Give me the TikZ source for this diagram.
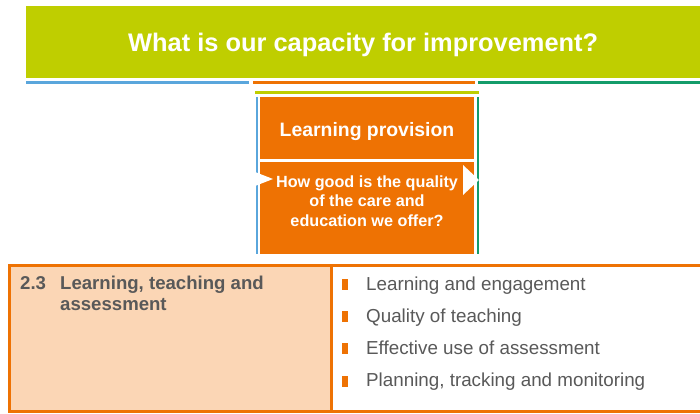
\documentclass[tikz,border=0pt]{standalone}
\usepackage{fontspec}
\setmainfont{Liberation Sans}
\usetikzlibrary{positioning,calc}
\definecolor{lime}{HTML}{BFCE00}
\definecolor{hgiorange}{HTML}{EE7203}
\definecolor{peach}{HTML}{FBD6B5}
\definecolor{skyline}{HTML}{5AA6DC}
\definecolor{greenline}{HTML}{149C6A}
\definecolor{greytext}{HTML}{595959}

\begin{document}
\begin{tikzpicture}[x=1pt,y=-1pt]
\tikzstyle{band}=[fill=hgiorange,draw=none,minimum width=214pt,inner sep=0pt,outer sep=0pt,anchor=north west]
\tikzstyle{cell}=[draw=hgiorange,line width=3pt,minimum height=145.5pt,inner sep=0pt,outer sep=0pt,anchor=north west]
\tikzstyle{bullet}=[fill=hgiorange,draw=none,minimum width=5.5pt,minimum height=11pt,inner sep=0pt,anchor=south west]
\tikzstyle{item}=[text=greytext,font=\fontsize{18.8}{22}\selectfont,inner sep=0pt,anchor=base west]
\tikzstyle{flag}=[fill=white,draw=none]

\useasboundingbox (0,0) rectangle (700,414);

% title bar
\node (title) [fill=lime,minimum width=674pt,minimum height=72pt,inner sep=0pt,anchor=north west,text=white,text height=23pt,text depth=5.3pt,font=\bfseries\fontsize{25.4}{28}\selectfont] at (26,6) {What is our capacity for improvement?};
\draw [skyline,line width=2.5pt] (26,82.5) -- (249,82.5);
\draw [hgiorange,line width=2.5pt] (253,82.5) -- (475,82.5);
\draw [greenline,line width=2.5pt] (478,82.5) -- (700,82.5);

% learning provision column
\draw [lime,line width=2.5pt] (255,92.5) -- (479,92.5);
\draw [skyline,line width=2pt] (256.5,97) -- (256.5,254);
\draw [greenline,line width=2pt] (477.5,97) -- (477.5,254);
\node (prov) [band,minimum height=62pt,text=white,text height=20pt,text depth=4pt,font=\bfseries\fontsize{19.4}{22}\selectfont] at (260,97) {Learning provision};
\node (quest) [band,minimum height=92pt] at (260,162) {};
\node (questtext) [text=white,align=center,inner sep=0pt,font=\bfseries\fontsize{16.2}{19.5}\selectfont] at ($(quest.north)+(0,39)$) {How good is the quality\\of the care and\\education we offer?};
\fill [flag] (quest.north west) ++(-5,10) -- ++(18,7) -- ++(-18,7) -- cycle;
\fill [flag] (quest.north east) ++(-11,3) -- ++(16,15) -- ++(-16,15) -- cycle;

% quality indicator row
\node (themes) [cell,fill=white,minimum width=375pt] at (331,265.5) {};
\node (area) [cell,fill=peach,minimum width=321.5pt] at (9.5,265.5) {};
\node (num) [text=greytext,font=\bfseries\fontsize{18.6}{21}\selectfont,inner sep=0pt,anchor=base west] at (20,289) {2.3};
\node (areatitle) [text=greytext,font=\bfseries\fontsize{18.6}{21}\selectfont,inner sep=0pt,align=left,anchor=north west] at (60,275.5) {Learning, teaching and\\assessment};

\node (lte1) [item] at (366,290) {Learning and engagement};
\node (lte2) at (lte1.base west) [item,yshift=-32.3pt] {Quality of teaching};
\node (lte3) at (lte2.base west) [item,yshift=-32.3pt] {Effective use of assessment};
\node (lte4) at (lte3.base west) [item,yshift=-32.3pt] {Planning, tracking and monitoring};
\node at (lte1.base west) [bullet,xshift=-24pt] {};
\node at (lte2.base west) [bullet,xshift=-24pt] {};
\node at (lte3.base west) [bullet,xshift=-24pt] {};
\node at (lte4.base west) [bullet,xshift=-24pt] {};
\end{tikzpicture}
\end{document}
